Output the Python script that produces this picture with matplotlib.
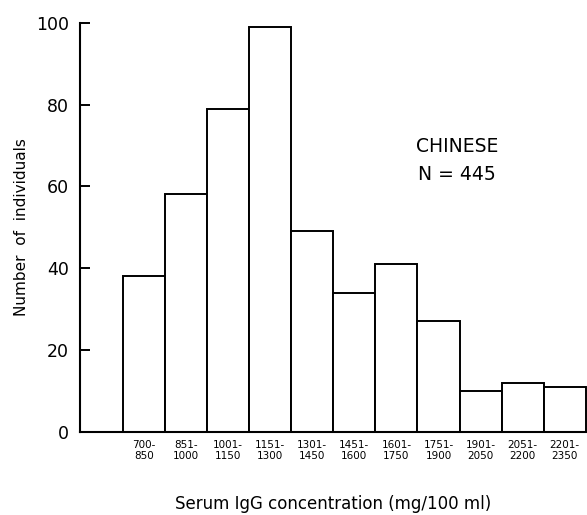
import matplotlib
matplotlib.use("Agg")
import matplotlib.pyplot as plt
import numpy as np

bins = ["700-\n850", "851-\n1000", "1001-\n1150", "1151-\n1300", "1301-\n1450",
        "1451-\n1600", "1601-\n1750", "1751-\n1900", "1901-\n2050", "2051-\n2200",
        "2201-\n2350"]
counts = [38, 58, 79, 99, 49, 34, 41, 27, 10, 12, 11]
yticks = [0, 20, 40, 60, 80, 100]

fig = plt.figure(figsize=(5.87, 5.15), dpi=100)
ax = fig.add_axes([80/587, 1 - 431.7/515, 1 - 80/587, (431.7 - 22.7)/515])

x = np.arange(len(bins))
ax.bar(x, counts, width=1.0, color="white", edgecolor="black", linewidth=1.4, zorder=2)

ax.set_xlim(-1.52, 10.53)
ax.set_ylim(0, 100)
ax.set_yticks(yticks)
ax.set_yticklabels([str(v) for v in yticks], fontsize=12.5)
ax.set_xticks(x)
ax.set_xticklabels(bins, fontsize=7.5, linespacing=1.15)
ax.tick_params(axis="y", direction="in", length=7, width=1.4, pad=8)
ax.tick_params(axis="x", length=0, pad=6)

for s in ["top", "right"]:
    ax.spines[s].set_visible(False)
for s in ["left", "bottom"]:
    ax.spines[s].set_linewidth(1.5)

ax.set_ylabel("Number  of  individuals", fontsize=11, labelpad=5)
ax.set_xlabel("Serum IgG concentration (mg/100 ml)", fontsize=12, labelpad=24)

ax.text(457/587, 1 - 146/515, "CHINESE", transform=fig.transFigure, ha="center", va="center", fontsize=13.5)
ax.text(457/587, 1 - 174/515, "N = 445", transform=fig.transFigure, ha="center", va="center", fontsize=13.5)

fig.savefig("out.png", dpi=100)
